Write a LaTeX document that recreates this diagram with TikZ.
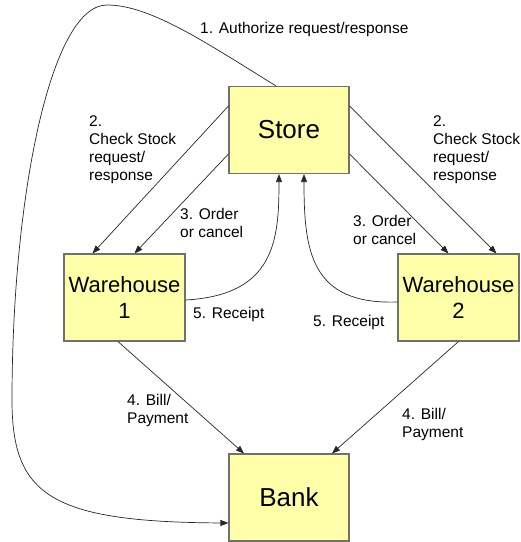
\documentclass[tikz,border=0pt]{standalone}
\usepackage{fontspec}
\setmainfont{Liberation Sans}
\usetikzlibrary{arrows.meta,calc}
\definecolor{boxfill}{HTML}{FFFFAA}
\definecolor{boxline}{HTML}{707070}
\begin{document}
\begin{tikzpicture}[x=1pt,y=-1pt,
  box/.style={draw=boxline,fill=boxfill,line width=1.1pt,minimum width=120pt,minimum height=87pt,inner sep=0pt,align=center},
  conn/.style={draw=black!85,line width=0.7pt,-{Triangle[length=8pt,width=6pt]}},
  lbl/.style={font=\fontsize{15.5}{17.7}\selectfont,align=left,anchor=base west,inner sep=0pt}]
\useasboundingbox (0,0) rectangle (521,542);
\node[box,font=\fontsize{26}{30}\selectfont] (store) at (289,130) {Store};
\node[box,minimum width=121pt,font=\fontsize{22}{26}\selectfont] (w1) at (124.5,297.5) {Warehouse\\1};
\node[box,minimum width=121pt,font=\fontsize{22}{26}\selectfont] (w2) at (458.5,297.5) {Warehouse\\2};
\node[box,font=\fontsize{26}{30}\selectfont] (bank) at (289,497.5) {Bank};

% 1. authorize
\coordinate (a0) at ($(store.north)+(-13,0)$);
\coordinate (a1) at (107,5);
\coordinate (a2) at (12,400);
\coordinate (a3) at ($(bank.west)+(0,25.5)$);
\draw[conn] (a0) .. controls (205,42) and (150,5) .. (a1)
  .. controls (50,5) and (12,200) .. (a2)
  .. controls (12,495) and (50,522) .. (a3);

% 2. check stock
\draw[conn] ($(store.west)+(0,-24)$) -- ($(w1.north)+(-32,0)$);
\draw[conn] ($(store.east)+(0,-24)$) -- ($(w2.north)+(38,0)$);
% 3. order
\draw[conn] ($(store.west)+(0,24)$) -- ($(w1.north)+(10,0)$);
\draw[conn] ($(store.east)+(0,24)$) -- ($(w2.north)+(-10,0)$);
% 5. receipt
\draw[conn] ($(w1.east)+(0,2.5)$) .. controls (275,295) and (279,240) .. ($(store.south)+(-10,0)$);
\draw[conn] ($(w2.west)+(0,4.5)$) .. controls (310,305) and (304,250) .. ($(store.south)+(15,0)$);
% 4. bill
\draw[conn] ($(w1.south)+(-6.5,0)$) -- ($(bank.north)+(-45,0)$);
\draw[conn] ($(w2.south)+(0,0)$) -- ($(bank.north)+(43,0)$);

% labels (anchored at the baseline of their last line)
\node[lbl] (l1) at (200,33) {1. Authorize request/response};
\node[lbl] (l2a) at (89,180) {2.\\Check Stock\\request/\\response};
\node[lbl] (l2b) at (433,180) {2.\\Check Stock\\request/\\response};
\node[lbl] (l3a) at (180,237) {3. Order\\or cancel};
\node[lbl] (l3b) at (353,244) {3. Order\\or cancel};
\node[lbl] (l5a) at (193,318) {5. Receipt};
\node[lbl] (l5b) at (313,326) {5. Receipt};
\node[lbl] (l4a) at (127,423) {4. Bill/\\Payment};
\node[lbl] (l4b) at (402,437) {4. Bill/\\Payment};
\end{tikzpicture}
\end{document}
